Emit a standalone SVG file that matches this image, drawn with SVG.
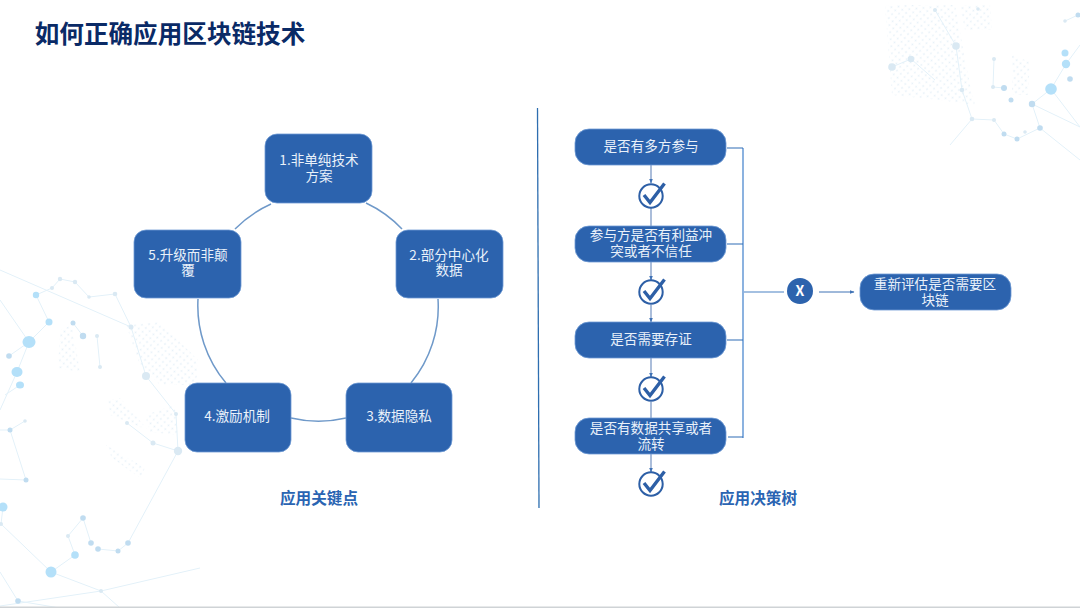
<svg xmlns="http://www.w3.org/2000/svg" width="1080" height="608" viewBox="0 0 1080 608">
<style>
text{font-family:"Noto Sans CJK SC","Noto Sans",sans-serif;text-anchor:middle}
.t{font-size:13.6px;fill:#e9f1fa}
.h{font-size:15.6px;font-weight:700;fill:#2a64b2}
.box{fill:#2c63ae;stroke:#6f9ad4;stroke-width:.8}
.ring{fill:none;stroke:#6f99c9;stroke-width:1.5}
.bus{fill:none;stroke:#6f9fd8;stroke-width:1.6}
.stub{fill:none;stroke:#2f6cb5;stroke-width:1.2}
.v{fill:none;stroke:#7d9ac6;stroke-width:1.3}
.ck{fill:none;stroke:#2d5fa6;stroke-width:2}
.cm{fill:none;stroke:#2d5fa6;stroke-width:3.4}
.nl{fill:none;stroke:#e3f1f9;stroke-width:1}
.na{fill:#b4e0f9}
.nb{fill:#c0dcf0}
.nc{fill:#dae9f3}
</style>
<defs>
<pattern id="dots" width="5" height="5" patternUnits="userSpaceOnUse" patternTransform="rotate(40)"><circle cx="2.500" cy="2.500" r=".9" fill="#e6f0f7"/></pattern>
<marker id="arr" markerUnits="userSpaceOnUse" markerWidth="5" markerHeight="5" refX="4.500" refY="2.500" orient="auto"><path d="M0 .5L5 2.500L0 4.500z" fill="#3f72b5"/></marker>
<filter id="soft" x="-5%" y="-5%" width="110%" height="110%"><feGaussianBlur stdDeviation=".6"/></filter>
<g id="chk"><circle cx="0" cy="0" r="11.7" class="ck"/><path d="M-7-1L-1 6.500L13.500-12.500" class="cm"/></g>
</defs>
<rect width="1080" height="608" fill="#fff"/>
<g id="background" filter="url(#soft)">
<g fill="url(#dots)">
<path d="M60 330L72 325L80 372L58 368z"/><path d="M126 325L160 322L198 360L196 385L160 385L140 365z"/><path d="M108 400L120 398L148 430L110 415z"/><path d="M145 415L175 405L178 435L150 432z"/><path d="M106 445L145 468L140 478L112 458z"/>
<path d="M885 5L955 5L968 75L975 105L940 100L892 95z"/><path d="M1012 55L1030 62L1028 95L1012 95z"/><path d="M960 5L990 5L992 30L965 30z"/>
</g>
<path class="nl" d="M36 295L52 288L60 279L75 282L89 297L115 294L131 327L146 376L176 414L178 451L128 543L118 551L98 549M91 543L83 518L68 536L75 555L51 572L1 524M51 572L101 591L120 608M36 295L49 322L29 342L0 300M29 342L17 372L0 410M20 385L5 395M0 270L131 327M73 323L83 336M97 336L100 367M127 423L153 443L178 451M10 430L25 421M10 430L26 480L0 479M0 430L10 430M3 507L1 524M0 606L101 591L200 568M0 572L18 601L60 608M29 342L9 356"/>
<path class="nl" d="M935 10L956 46L962 90L972 119L994 120L1004 134L1017 139L1040 128L1032 104L1051 89L1066 64L1080 45M1051 89L1080 127M1032 104L1080 127M1040 128L1080 160M972 119L950 145M994 59L993 87L1004 88M1065 21L1078 15M892 67L911 59L935 80"/>
<g class="na"><ellipse cx="29" cy="342" rx="6.500" ry="6"/><ellipse cx="17" cy="372" rx="5.500" ry="5"/><ellipse cx="20" cy="385" rx="4" ry="3.500"/><circle cx="3" cy="507" r="4.500"/><circle cx="51" cy="572" r="5.500"/><circle cx="75" cy="555" r="3.800"/><circle cx="1051" cy="89" r="5.800"/><circle cx="1066" cy="64" r="4.200"/><circle cx="1065" cy="53" r="3.500"/><circle cx="49" cy="322" r="3.500"/><circle cx="36" cy="295" r="3.200"/></g>
<g class="nb"><circle cx="83" cy="336" r="3.200"/><circle cx="9" cy="356" r="2.800"/><circle cx="83" cy="518" r="2.800"/><circle cx="91" cy="543" r="2.800"/><circle cx="98" cy="549" r="2.800"/><circle cx="118" cy="551" r="2.500"/><circle cx="128" cy="543" r="2.800"/><circle cx="10" cy="430" r="2.500"/><circle cx="26" cy="480" r="2.500"/><circle cx="18" cy="601" r="2.800"/><circle cx="73" cy="323" r="2.500"/><circle cx="1032" cy="104" r="3.200"/><circle cx="1040" cy="128" r="2.800"/><circle cx="1070" cy="79" r="2.800"/><circle cx="1004" cy="134" r="2.500"/><circle cx="1017" cy="139" r="2.500"/><circle cx="1004" cy="88" r="3"/><circle cx="1011" cy="100" r="2.500"/><circle cx="1078" cy="15" r="2.500"/></g>
<g class="nc"><circle cx="153" cy="443" r="2.500"/><circle cx="178" cy="451" r="4.200"/><circle cx="146" cy="376" r="4"/><circle cx="131" cy="327" r="2.500"/><circle cx="52" cy="288" r="2"/><circle cx="60" cy="279" r="2.200"/><circle cx="75" cy="282" r="2.200"/><circle cx="89" cy="297" r="1.800"/><circle cx="115" cy="294" r="2.300"/><circle cx="97" cy="336" r="2"/><circle cx="100" cy="367" r="2"/><circle cx="127" cy="423" r="2"/><circle cx="176" cy="414" r="2"/><circle cx="25" cy="421" r="1.800"/><circle cx="68" cy="536" r="2"/><circle cx="101" cy="591" r="2"/><circle cx="1" cy="524" r="2"/><circle cx="956" cy="46" r="3.800"/><circle cx="911" cy="59" r="3.300"/><circle cx="892" cy="67" r="3.800"/><circle cx="962" cy="90" r="2.300"/><circle cx="994" cy="59" r="2"/><circle cx="993" cy="87" r="2"/><circle cx="972" cy="119" r="2.300"/><circle cx="994" cy="120" r="2"/><circle cx="935" cy="10" r="2"/><circle cx="978" cy="9" r="1.800"/><circle cx="1025" cy="132" r="1.800"/><circle cx="1065" cy="21" r="1.800"/></g>
</g>
<rect y="606.500" width="1080" height="1.500" fill="#cfd3d6"/>
<text x="170" y="43" style="font-size:24.600px;font-weight:700;fill:#0a2a66">如何正确应用区块链技术</text>
<g id="connectors">
<path class="ring" d="M271 204A120 120 0 0 0 235 229M198 299A120 120 0 0 0 226 383M291 418A120 120 0 0 0 346 418M411 383A120 120 0 0 0 438 299M402 229A120 120 0 0 0 366 203"/>
<path d="M537.500 108L539 508" fill="none" stroke="#2e6eb0" stroke-width="1.300"/>
<path class="v" marker-end="url(#arr)" d="M651 165V183"/><path class="v" d="M651 208V226"/>
<path class="v" marker-end="url(#arr)" d="M651 262V280"/><path class="v" marker-end="url(#arr)" d="M651 305V322"/>
<path class="v" marker-end="url(#arr)" d="M651 358V377"/><path class="v" d="M651 402V418"/>
<path class="v" marker-end="url(#arr)" d="M651 454V472"/>
<path class="bus" d="M743 148V438"/>
<path class="stub" d="M727 148H743M727 244H743M727 340H743M728 437H743"/>
<path d="M744 292H784" fill="none" stroke="#4a82c4" stroke-width="1.200"/>
<path d="M819 292H854" fill="none" stroke="#3f72b5" stroke-width="1" marker-end="url(#arr)"/>
</g>
<g id="n1"><rect class="box" x="265" y="134" width="107" height="69" rx="12"/><text class="t" x="319" y="165">1.非单纯技术<tspan x="319" dy="15.500">方案</tspan></text></g>
<g id="n2"><rect class="box" x="396" y="230" width="107" height="68" rx="12"/><text class="t" x="449" y="260">2.部分中心化<tspan x="449" dy="15">数据</tspan></text></g>
<g id="n3"><rect class="box" x="346" y="383" width="106" height="69" rx="12"/><text class="t" x="399" y="421">3.数据隐私</text></g>
<g id="n4"><rect class="box" x="185" y="383" width="106" height="69" rx="12"/><text class="t" x="237" y="421">4.激励机制</text></g>
<g id="n5"><rect class="box" x="134" y="230" width="107" height="68" rx="12"/><text class="t" x="188" y="260">5.升级而非颠<tspan x="188" dy="15">覆</tspan></text></g>
<g id="d1"><rect class="box" x="575" y="129" width="151" height="36" rx="14"/><text class="t" x="651" y="151">是否有多方参与</text></g>
<g id="c1"><use href="#chk" x="651" y="196"/></g>
<g id="d2"><rect class="box" x="575" y="226" width="151" height="36" rx="14"/><text class="t" x="651" y="240">参与方是否有利益冲<tspan x="651" dy="16">突或者不信任</tspan></text></g>
<g id="c2"><use href="#chk" x="651" y="292"/></g>
<g id="d3"><rect class="box" x="575" y="322" width="151" height="36" rx="14"/><text class="t" x="651" y="344">是否需要存证</text></g>
<g id="c3"><use href="#chk" x="651" y="389"/></g>
<g id="d4"><rect class="box" x="575" y="418" width="151" height="36" rx="14"/><text class="t" x="651" y="433">是否有数据共享或者<tspan x="651" dy="16">流转</tspan></text></g>
<g id="c4"><use href="#chk" x="651" y="484"/></g>
<g id="x"><circle cx="800" cy="291" r="13" fill="#2d63ad"/><text x="800" y="296" style="font-size:14px;font-weight:700;fill:#fff">X</text></g>
<g id="r"><rect class="box" x="860" y="274" width="151" height="36" rx="14"/><text class="t" x="935" y="289">重新评估是否需要区<tspan x="935" dy="16">块链</tspan></text></g>
<text class="h" x="319" y="504">应用关键点</text>
<text class="h" x="758" y="504">应用决策树</text>
</svg>
